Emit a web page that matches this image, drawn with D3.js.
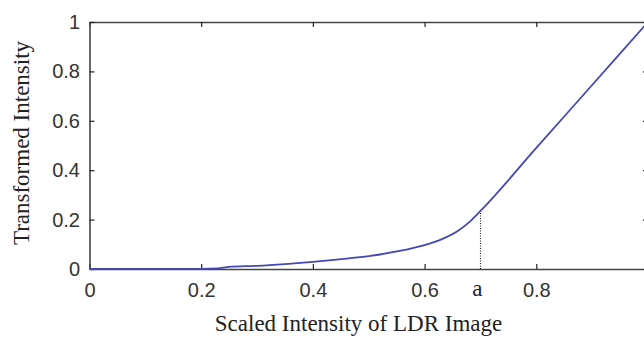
<!DOCTYPE html>
<html>
<head>
<meta charset="utf-8">
<script src="https://cdn.jsdelivr.net/npm/d3@7"></script>
<style>
  html, body { margin: 0; padding: 0; background: #fff; }
  svg { display: block; }
</style>
</head>
<body>
<svg id="chart" width="644" height="339"></svg>
<script>
// ---- data ----
const xValues = [0, 0.1, 0.2, 0.23, 0.25, 0.3, 0.35, 0.4, 0.45, 0.5, 0.55, 0.6, 0.63, 0.66, 0.68, 0.7, 0.8, 0.9, 1.0];
const yValues = [0, 0, 0, 0.002, 0.009, 0.013, 0.02, 0.029, 0.04, 0.052, 0.071, 0.097, 0.12, 0.155, 0.19, 0.235, 0.49, 0.745, 1.0];
const xTicks = [0, 0.2, 0.4, 0.6, 0.8, 1];
const yTicks = [0, 0.2, 0.4, 0.6, 0.8, 1];
const markerX = 0.7;
const markerY = 0.235;
const markerLabel = "a";
const xTitle = "Scaled Intensity of LDR Image";
const yTitle = "Transformed Intensity";

// ---- layout ----
const svg = d3.select("#chart");
const x = d3.scaleLinear().domain([0, 1]).range([89.5, 648]);
const y = d3.scaleLinear().domain([0, 1]).range([269, 22]);
const fmt = d => d === 0 ? "0" : d === 1 ? "1" : String(d);

const axisColor = "#444";
const tickFont = "'Liberation Sans', Arial, sans-serif";
const serif = "'Liberation Serif', 'Times New Roman', serif";

function styleAxis(g, showLabels) {
  g.select(".domain").attr("stroke", axisColor).attr("stroke-width", 1.6);
  g.selectAll(".tick line").attr("stroke", "#222").attr("stroke-width", 1.2);
  g.selectAll(".tick text")
    .attr("fill", "#333")
    .style("font-family", tickFont)
    .style("font-size", "20px");
  if (!showLabels) g.selectAll(".tick text").remove();
}

// bottom
svg.append("g")
  .attr("transform", `translate(0,${y(0)})`)
  .call(d3.axisBottom(x).tickValues(xTicks).tickFormat(fmt).tickSize(-5).tickSizeOuter(0).tickPadding(14))
  .call(g => styleAxis(g, true));
// top
svg.append("g")
  .attr("transform", `translate(0,${y(1)})`)
  .call(d3.axisTop(x).tickValues(xTicks).tickSize(-5).tickSizeOuter(0))
  .call(g => styleAxis(g, false));
// left
svg.append("g")
  .attr("transform", `translate(${x(0)},0)`)
  .call(d3.axisLeft(y).tickValues(yTicks).tickFormat(fmt).tickSize(-5).tickSizeOuter(0).tickPadding(9.5))
  .call(g => styleAxis(g, true));
// right
svg.append("g")
  .attr("transform", `translate(${x(1)},0)`)
  .call(d3.axisRight(y).tickValues(yTicks).tickSize(-5).tickSizeOuter(0))
  .call(g => styleAxis(g, false));

// dotted marker line
svg.append("line")
  .attr("x1", x(markerX)).attr("x2", x(markerX))
  .attr("y1", y(0)).attr("y2", y(markerY))
  .attr("stroke", "#111").attr("stroke-width", 1)
  .attr("stroke-dasharray", "1,1.5");

// curve
const data = xValues.map((v, i) => [v, yValues[i]]);
svg.append("path")
  .datum(data)
  .attr("fill", "none")
  .attr("stroke", "#4646b4")
  .attr("stroke-width", 1.8)
  .attr("d", d3.line().x(d => x(d[0])).y(d => y(d[1])).curve(d3.curveMonotoneX));

// marker label
svg.append("text")
  .attr("x", x(markerX) - 3)
  .attr("y", 296)
  .attr("text-anchor", "middle")
  .style("font-family", serif)
  .style("font-size", "23px")
  .attr("fill", "#222")
  .text(markerLabel);

// axis titles
svg.append("text")
  .attr("x", 358.5)
  .attr("y", 331)
  .attr("text-anchor", "middle")
  .style("font-family", serif)
  .style("font-size", "23px")
  .attr("fill", "#222")
  .text(xTitle);

svg.append("text")
  .attr("transform", "translate(29,143) rotate(-90)")
  .attr("text-anchor", "middle")
  .style("font-family", serif)
  .style("font-size", "23px")
  .attr("fill", "#222")
  .text(yTitle);
</script>
</body>
</html>
